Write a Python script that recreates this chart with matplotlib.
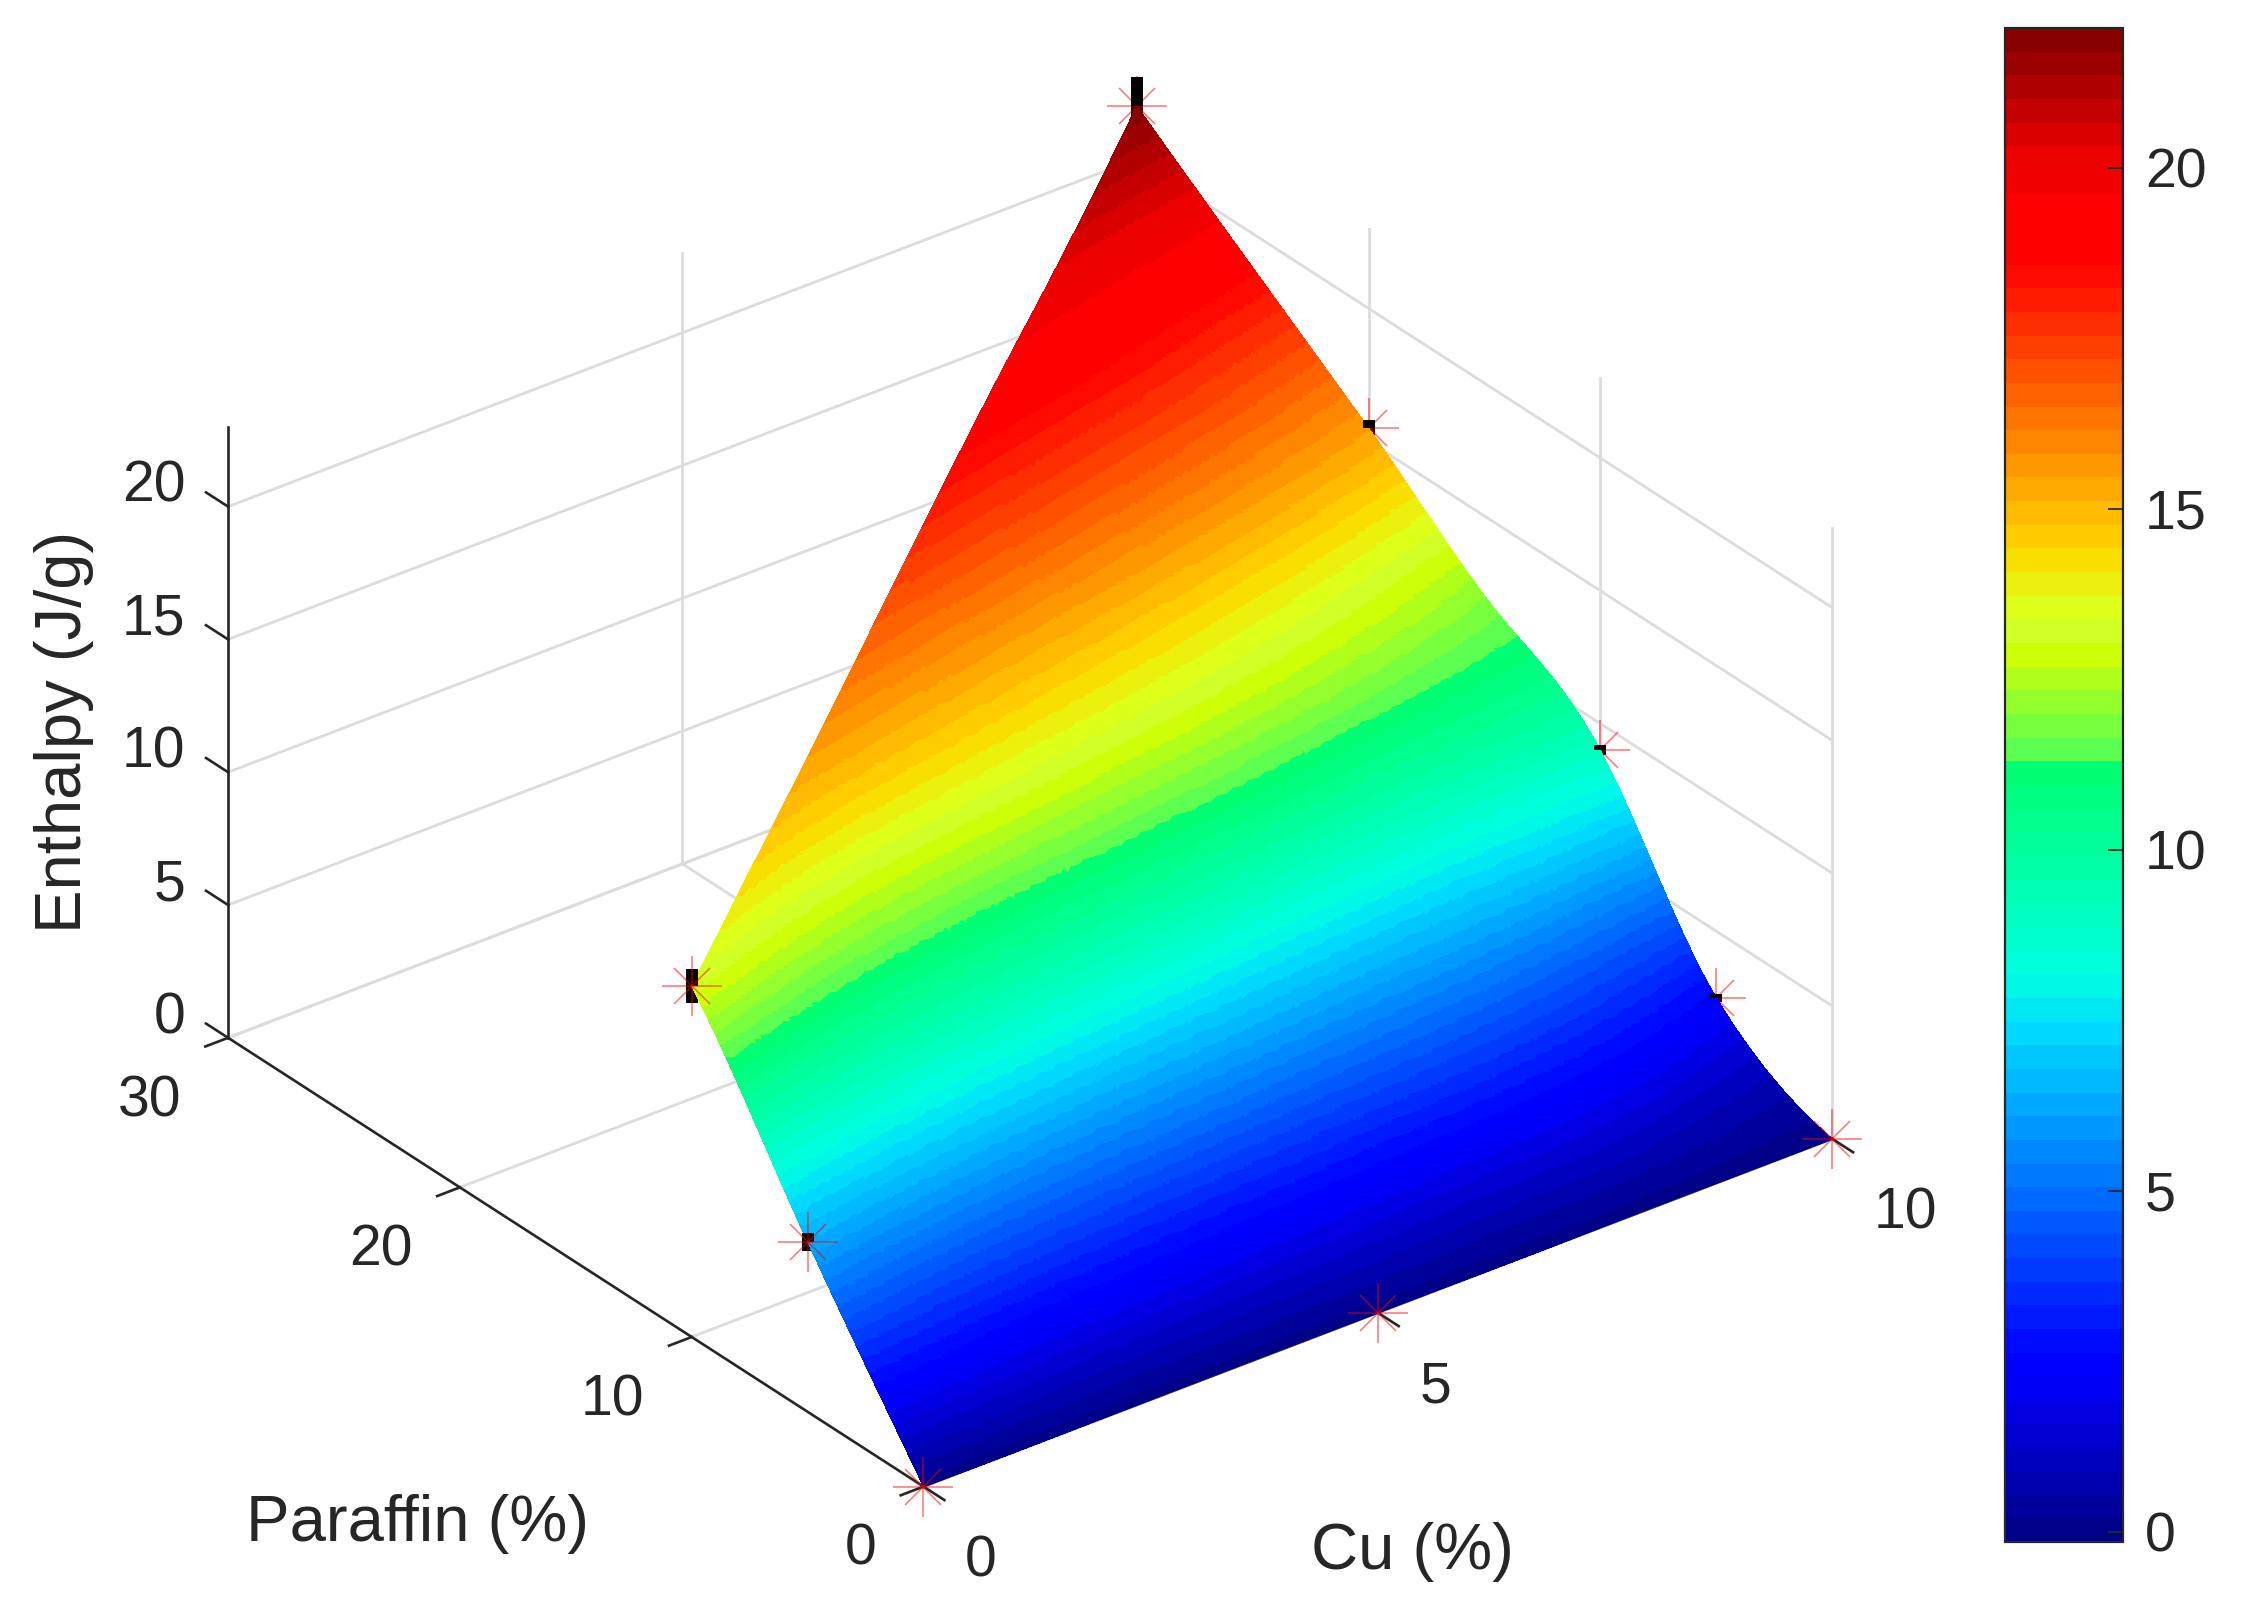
import numpy as np
import matplotlib
matplotlib.use('Agg')
from matplotlib import pyplot as plt
from matplotlib import tri
from matplotlib.cm import ScalarMappable
from matplotlib.colors import ListedColormap, Normalize

plt.rcParams['font.family'] = ['Liberation Sans', 'DejaVu Sans']

cu = [0, 5, 10, 0, 10, 0, 10, 10, 10]
paraffin = [0, 0, 0, 5, 5, 10, 10, 20, 30]
enthalpy = [0, 0, 0, 6.4, 2.5, 13.2, 9.0, 15.5, 22.0]
err = [0, 0, 0, 0.35, 0.15, 0.64, 0.2, 0.3, 1.1]
# which markers lie behind the surface
behind = [False, False, False, False, True, False, True, True, True]

cu_extra = [2.5, 7.5, 9, 5, 5, 2.5, 7.5, 10]
paraffin_extra = [0, 0, 0, 5, 10, 15, 25, 15]
enthalpy_extra = [0, 0, 0, 4.45, 10.1, 15.4, 19.8, 12.0]

cu_ticks = [0, 5, 10]
paraffin_ticks = [0, 10, 20, 30]
z_ticks = [0, 5, 10, 15, 20]
cbar_ticks = [0, 5, 10, 15, 20]

DARK = '#262626'
GRID = '#dcdcdc'
W, H = 2242, 1621
zmax = 23
vmin, vmax = -0.15, 22.05

# jet, but the green part and the reds of the source picture are shifted
f = (np.arange(64) + 0.5) / 64
rgb = plt.get_cmap('jet')(f)
rgb[f < 0.515, 0] = 0
m = (f >= 0.515) & (f < 0.6)
rgb[m, 0] = 0.3 + (f[m] - 0.515) / 0.085 * 0.6
rgb[m, 2] = np.clip(0.35 - (f[m] - 0.515) * 4.5, 0, 1)
m = f > 0.62
rgb[m, 1] = np.clip(1 - (f[m] - 0.62) / 0.225, 0, 1)
m = f > 0.9
rgb[m, 0] = 1 - (f[m] - 0.9) / 0.1 * 0.5
cmap = ListedColormap(rgb)
norm = Normalize(vmin, vmax)

fig = plt.figure(figsize=(W / 100, H / 100), dpi=100, facecolor='white')
side = 1712
ax = fig.add_axes([151 / W, -41 / H, side / W, side / H], projection='3d', computed_zorder=False)
ax.set_proj_type('ortho')
ax.set_xlim(0, 10)
ax.set_ylim(0, 30)
ax.set_zlim(0, zmax)
ax.set_box_aspect((800, 795, 491), zoom=1)
ax.view_init(elev=29.8, azim=-127.6, roll=0)
ax.set_axis_off()

# back walls and floor grid
for z in z_ticks:
    ax.plot([0, 10], [30, 30], [z, z], color=GRID, lw=2, zorder=1)
    ax.plot([10, 10], [30, 0], [z, z], color=GRID, lw=2, zorder=1)
for c in cu_ticks[1:]:
    ax.plot([c, c], [30, 30], [0, zmax], color=GRID, lw=2, zorder=1)
    ax.plot([c, c], [0, 30], [0, 0], color=GRID, lw=2, zorder=1)
for p in paraffin_ticks[:-1]:
    ax.plot([10, 10], [p, p], [0, zmax], color=GRID, lw=2, zorder=1)
for p in paraffin_ticks[1:]:
    ax.plot([0, 10], [p, p], [0, 0], color=GRID, lw=2, zorder=1)

# axis lines and tick marks
ax.plot([0, 10], [0, 0], [0, 0], color=DARK, lw=1.9, zorder=1.2)
ax.plot([0, 0], [0, 30], [0, 0], color=DARK, lw=1.9, zorder=1.2)
ax.plot([0, 0], [30, 30], [0, zmax], color=DARK, lw=1.9, zorder=1.2)
for c in cu_ticks:
    ax.plot([c, c], [0, -0.9], [0, 0], color=DARK, lw=1.9, zorder=1.2)
    ax.text(c, -1.8, -1.8, str(c), ha='left', va='center', fontsize=41, color=DARK, zorder=5)
for p in paraffin_ticks:
    ax.plot([0, -0.25], [p, p], [0, 0], color=DARK, lw=1.9, zorder=1.2)
    ax.text(-0.52, p, -1.7, str(p), ha='right', va='center', fontsize=41, color=DARK, zorder=5)
for z in z_ticks:
    ax.plot([0, 0], [30, 30.95], [z, z], color=DARK, lw=1.9, zorder=1.2)
    ax.text(0, 31.85, z - 0.3, str(z), ha='right', va='center', fontsize=41, color=DARK, zorder=5)

# lower half of the error bars sits behind the surface, upper half in front
cu_a, par_a, z_a, err_a = map(np.array, (cu, paraffin, enthalpy, err))
for i in np.nonzero(err_a)[0]:
    ax.plot([cu_a[i]] * 2, [par_a[i]] * 2, [z_a[i] - err_a[i], z_a[i]], color='k', lw=8.6,
            solid_capstyle='butt', zorder=1.5)
    ax.plot([cu_a[i]] * 2, [par_a[i]] * 2, [z_a[i], z_a[i] + err_a[i]], color='k', lw=8.6,
            solid_capstyle='butt', zorder=3)

# fitted surface
triang = tri.Triangulation(cu + cu_extra, paraffin + paraffin_extra)
refiner = tri.UniformTriRefiner(triang)
fine, z_fine = refiner.refine_field(np.array(enthalpy + enthalpy_extra, dtype=float), subdiv=6)
ax.plot_trisurf(fine, z_fine, cmap=cmap, norm=norm, shade=False, linewidth=0,
                antialiased=False, zorder=2)

for i in range(len(cu)):
    zo = 1.6 if behind[i] else 4
    ax.plot([cu[i]], [paraffin[i]], [enthalpy[i]], ls='none', marker='+', ms=43, mew=1.1,
            color='#ff0000', alpha=0.55, zorder=zo)
    ax.plot([cu[i]], [paraffin[i]], [enthalpy[i]], ls='none', marker='x', ms=26, mew=1.1,
            color='#ff0000', alpha=0.55, zorder=zo)

fig.text(292 * 1.43 / W, 1 - 1066 * 1.43 / H, 'Paraffin (%)', ha='center', va='center', fontsize=47, color=DARK)
fig.text(988 * 1.43 / W, 1 - 1085 * 1.43 / H, 'Cu (%)', ha='center', va='center', fontsize=47, color=DARK)
fig.text(45 * 1.43 / W, 1 - 512 * 1.43 / H, 'Enthalpy (J/g)', ha='center', va='center', rotation=90,
         fontsize=47, color=DARK)

cax = fig.add_axes([2005 / W, 1 - 1542 / H, 118 / W, (1542 - 28) / H])
cb = fig.colorbar(ScalarMappable(norm=norm, cmap=cmap), cax=cax)
cb.set_ticks(cbar_ticks)
cb.ax.tick_params(direction='in', length=10.5, width=1.3, color=DARK, labelcolor=DARK, labelsize=40, pad=16)
cb.outline.set_edgecolor(DARK)
cb.outline.set_linewidth(1.6)

fig.savefig('out.png', dpi=100)
